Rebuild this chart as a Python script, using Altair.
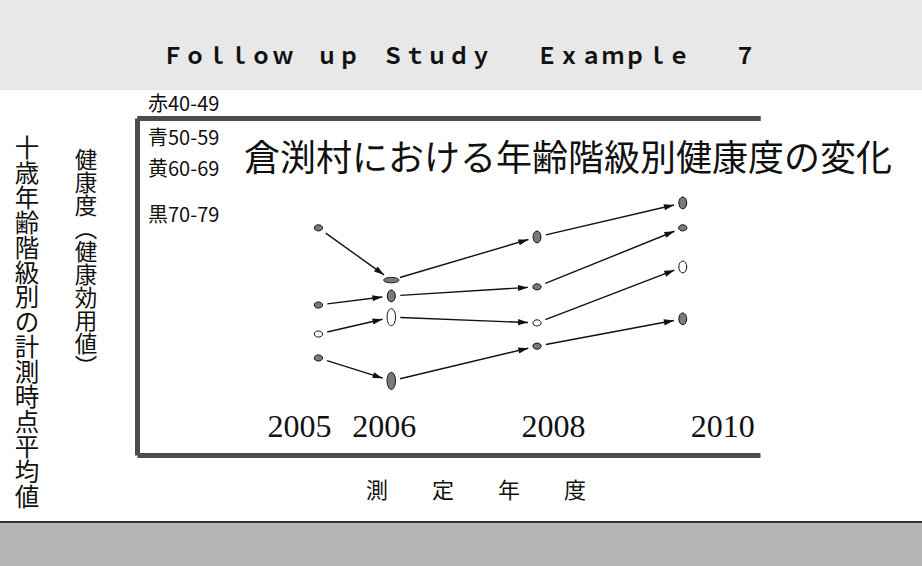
import math
import altair as alt
import pandas as pd

# ---------------- data ----------------
years = [2005, 2006, 2008, 2010]
year_labels = ["2005", "2006", "2008", "2010"]
groups = ["赤40-49", "青50-59", "黄60-69", "黒70-79"]
# health index (0-100 relative scale, axis unlabeled in the original)
health_red = [67.4, 51.9, 64.7, 74.8]
health_blue = [44.5, 47.2, 49.9, 67.4]
health_yellow = [35.9, 40.9, 39.2, 55.8]
health_black = [28.8, 22.0, 32.3, 40.4]
# outline of each marker as drawn: s = small, t = tall, T = taller, w = wide
form_red = ["s", "w", "t", "t"]
form_blue = ["s", "t", "s", "s"]
form_yellow = ["s", "T", "s", "t"]
form_black = ["s", "T", "s", "t"]

title_text = "Ｆｏｌｌｏｗ　ｕｐ　Ｓｔｕｄｙ　　Ｅｘａｍｐｌｅ　　７"
subtitle_text = "倉渕村における年齢階級別健康度の変化"
y_title = list("健康度︵健康効用値︶")
outer_title = list("十歳年齢階級別の計測時点平均値")
x_title = "測　　定　　年　　度"

# ---------------- layout ----------------
W, H = 623, 337
PAD_L, PAD_T = 137, 118
PAD_R, PAD_B = 922 - PAD_L - W, 566 - PAD_T - H
X_DOM = [2002.51, 2011.06]
LABEL_X_DOM = [2003.08, 2010.44]
Y_DOM = [0, 100]
FONT = "Noto Sans CJK JP"

series = [health_red, health_blue, health_yellow, health_black]
forms = [form_red, form_blue, form_yellow, form_black]

rows = []
for g, vals, fm in zip(groups, series, forms):
    for yr, v, f in zip(years, vals, fm):
        rows.append({"group": g, "year": yr, "health": v, "form": f})
points = pd.DataFrame(rows)


def px(t):
    return (t - X_DOM[0]) / (X_DOM[1] - X_DOM[0]) * W


def py(v):
    return H - (v - Y_DOM[0]) / (Y_DOM[1] - Y_DOM[0]) * H


def inv_px(p):
    return X_DOM[0] + p / W * (X_DOM[1] - X_DOM[0])


def inv_py(p):
    return Y_DOM[0] + (H - p) / H * (Y_DOM[1] - Y_DOM[0])


GAP_START, GAP_END = 9, 9
arr = []
for g, vals in zip(groups, series):
    for i in range(len(years) - 1):
        x0, y0 = px(years[i]), py(vals[i])
        x1, y1 = px(years[i + 1]), py(vals[i + 1])
        d = math.hypot(x1 - x0, y1 - y0)
        ux, uy = (x1 - x0) / d, (y1 - y0) / d
        sx, sy = x0 + ux * GAP_START, y0 + uy * GAP_START
        ex, ey = x1 - ux * GAP_END, y1 - uy * GAP_END
        arr.append({
            "group": g,
            "t0": inv_px(sx), "v0": inv_py(sy),
            "t1": inv_px(ex), "v1": inv_py(ey),
            "angle": math.degrees(math.atan2(uy, ux)) % 360,
        })
arrows = pd.DataFrame(arr)


def ellipse(rx, ry):
    return f"M{-rx},0A{rx},{ry} 0 1,0 {rx},0A{rx},{ry} 0 1,0 {-rx},0Z"


shape_scale = alt.Scale(
    domain=["s", "t", "T", "w"],
    range=[ellipse(0.46, 0.34), ellipse(0.44, 0.66), ellipse(0.47, 0.95), ellipse(0.85, 0.30)],
)
fill_scale = alt.Scale(domain=groups, range=["#7a7a7a", "#7a7a7a", "#ffffff", "#7a7a7a"])

xs = alt.Scale(domain=X_DOM, nice=False, zero=False)
ys = alt.Scale(domain=Y_DOM, nice=False, zero=False)
x_axis = alt.Axis(domain=True, domainColor="#4d4d4d", domainWidth=5, labels=False,
                  ticks=False, grid=False, title=None)
y_axis = alt.Axis(domain=True, domainColor="#4d4d4d", domainWidth=5, labels=False,
                  ticks=False, grid=False, title=None)

one = pd.DataFrame({"k": [0]})


def note(text, x, y, **kw):
    return alt.Chart(one).mark_text(**kw).encode(
        x=alt.value(x - PAD_L), y=alt.value(y - PAD_T), text=alt.value(text))


def band(x0, x1, y0, y1, color):
    return alt.Chart(one).mark_rect(color=color).encode(
        x=alt.value(x0 - PAD_L), x2=alt.value(x1 - PAD_L),
        y=alt.value(y0 - PAD_T), y2=alt.value(y1 - PAD_T))


bg_top = band(0, 922, 0, 90, "#e8e8e8")
bg_bottom = band(0, 922, 523, 566, "#b5b5b5")
bottom_rule = alt.Chart(one).mark_rule(color="#333333", strokeWidth=2).encode(
    x=alt.value(0 - PAD_L), x2=alt.value(922 - PAD_L), y=alt.value(522 - PAD_T))

lines = alt.Chart(arrows).mark_rule(color="#111111", strokeWidth=1.4).encode(
    x=alt.X("t0:Q", scale=xs, axis=x_axis),
    y=alt.Y("v0:Q", scale=ys, axis=y_axis),
    x2="t1:Q", y2="v1:Q",
)
heads = alt.Chart(arrows).mark_point(
    filled=True, color="#111111", opacity=1, size=100, strokeWidth=0,
    shape="M0,0L-2,-0.62L-2,0.62Z",
).encode(
    x=alt.X("t1:Q", scale=xs, axis=x_axis),
    y=alt.Y("v1:Q", scale=ys, axis=y_axis),
    angle=alt.Angle("angle:Q", scale=None),
)
marks = alt.Chart(points).mark_point(
    filled=True, opacity=1, stroke="#111111", strokeWidth=1, size=324,
).encode(
    x=alt.X("year:Q", scale=xs, axis=x_axis),
    y=alt.Y("health:Q", scale=ys, axis=y_axis),
    shape=alt.Shape("form:N", scale=shape_scale, legend=None),
    fill=alt.Fill("group:N", scale=fill_scale, legend=None),
)

year_df = pd.DataFrame({"yr": years, "label": year_labels})
year_text = alt.Chart(year_df).mark_text(
    font="Liberation Serif", fontSize=32, color="#111111", baseline="middle",
).encode(
    x=alt.X("yr:Q", scale=alt.Scale(domain=LABEL_X_DOM, nice=False, zero=False), axis=None),
    y=alt.value(427 - PAD_T),
    text="label:N",
)

title = note(title_text, 459, 57, font=FONT, fontSize=22, fontWeight="bold",
             color="#111111", align="center", baseline="middle")
subtitle = note(subtitle_text, 568, 160, font=FONT, fontSize=36, color="#111111",
                align="center", baseline="middle")
legend_marks = [
    note(groups[0], 148, 105, font=FONT, fontSize=20, color="#111111", align="left", baseline="middle"),
    note(groups[1], 148, 139, font=FONT, fontSize=20, color="#111111", align="left", baseline="middle"),
    note(groups[2], 148, 170, font=FONT, fontSize=20, color="#111111", align="left", baseline="middle"),
    note(groups[3], 148, 216, font=FONT, fontSize=20, color="#111111", align="left", baseline="middle"),
]
ytitle = note(y_title, 86, 150, font=FONT, fontSize=22.5, lineHeight=23, color="#111111",
              align="center", baseline="top")
outer = note(outer_title, 27, 138, font=FONT, fontSize=24.5, lineHeight=24.9, color="#111111",
             align="center", baseline="top")
xtitle = note(x_title, 476, 491, font=FONT, fontSize=22, color="#111111",
              align="center", baseline="middle")

chart = alt.layer(
    bg_top, bg_bottom, bottom_rule,
    lines, heads, marks, year_text,
    title, subtitle, *legend_marks, ytitle, outer, xtitle,
).resolve_scale(x="independent").properties(
    width=W, height=H,
    padding={"left": PAD_L, "top": PAD_T, "right": PAD_R, "bottom": PAD_B},
    autosize=alt.AutoSizeParams(type="none"),
    background="white",
).configure_view(stroke=None)

chart.save("out.html", embed_options={"renderer": "svg", "actions": False})
